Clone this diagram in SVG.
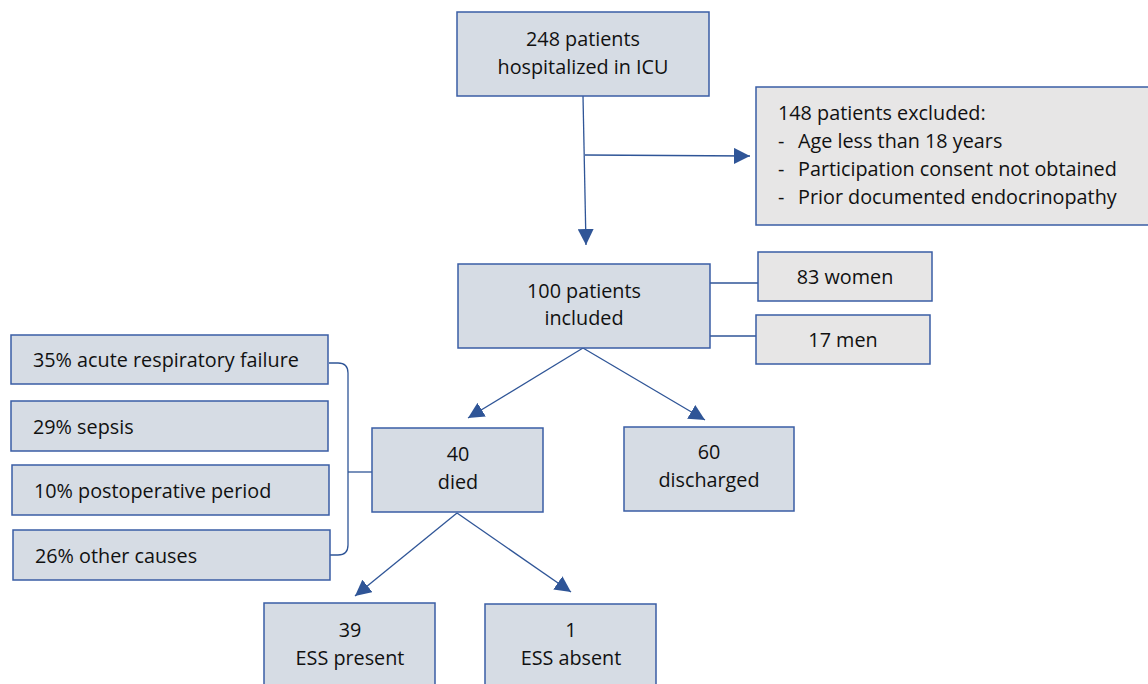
<svg xmlns="http://www.w3.org/2000/svg" width="1148" height="684" viewBox="0 0 1148 684">
<defs>
<marker id="ah" viewBox="0 0 10 10" refX="10" refY="5" markerWidth="16" markerHeight="16" markerUnits="userSpaceOnUse" orient="auto">
<path d="M0,0 L10,5 L0,10 z" fill="#2f5597"/>
</marker>
<style>
.b{fill:#d6dce4;stroke:#3a5da5;stroke-width:1.5}
.g{fill:#e7e6e6;stroke:#3a5da5;stroke-width:1.5}
.c{fill:none;stroke:#2f5597;stroke-width:1.3}
text{font-family:"Open Sans","Noto Sans","Liberation Sans",sans-serif;font-size:19.8px;fill:#111}
.m{text-anchor:middle}
</style>
</defs>
<rect width="1148" height="684" fill="#fff"/>
<g id="connectors">
<path class="c" d="M583,96 L586,245" marker-end="url(#ah)"/>
<path class="c" d="M585,155 L750,156" marker-end="url(#ah)"/>
<path class="c" d="M710,283 L758,283"/>
<path class="c" d="M710,336 L756,336"/>
<path class="c" d="M583,348 L468,418" marker-end="url(#ah)"/>
<path class="c" d="M583,348 L705,420" marker-end="url(#ah)"/>
<path class="c" d="M329,363 L338,363 Q348,363 348,373 L348,545 Q348,555 338,555 L330,555"/>
<path class="c" d="M348,472 L372,472"/>
<path class="c" d="M457,513 L355,596" marker-end="url(#ah)"/>
<path class="c" d="M457,513 L571,592" marker-end="url(#ah)"/>
</g>
<g id="n-248"><rect class="b" x="457" y="12" width="252" height="84"/><text class="m" x="583" y="46">248 patients</text><text class="m" x="583" y="74">hospitalized in ICU</text></g>
<g id="n-excluded"><rect class="g" x="756" y="87" width="400" height="138"/>
<text x="778" y="120">148 patients excluded:</text>
<text x="778" y="148">-</text><text x="798" y="148">Age less than 18 years</text>
<text x="778" y="176">-</text><text x="798" y="176">Participation consent not obtained</text>
<text x="778" y="204">-</text><text x="798" y="204">Prior documented endocrinopathy</text></g>
<g id="n-100"><rect class="b" x="458" y="264" width="252" height="84"/><text class="m" x="584" y="298">100 patients</text><text class="m" x="584" y="325">included</text></g>
<g id="n-women"><rect class="g" x="758" y="252" width="174" height="49"/><text class="m" x="845" y="284">83 women</text></g>
<g id="n-men"><rect class="g" x="756" y="315" width="174" height="49"/><text class="m" x="843" y="347">17 men</text></g>
<g id="n-resp"><rect class="b" x="11" y="335" width="317" height="49"/><text x="33" y="367">35% acute respiratory failure</text></g>
<g id="n-sepsis"><rect class="b" x="11" y="401" width="317" height="50"/><text x="33" y="434">29% sepsis</text></g>
<g id="n-postop"><rect class="b" x="12" y="465" width="317" height="50"/><text x="34" y="498">10% postoperative period</text></g>
<g id="n-other"><rect class="b" x="13" y="530" width="317" height="50"/><text x="35" y="563">26% other causes</text></g>
<g id="n-died"><rect class="b" x="372" y="428" width="171" height="84"/><text class="m" x="458" y="461">40</text><text class="m" x="458" y="489">died</text></g>
<g id="n-discharged"><rect class="b" x="624" y="427" width="170" height="84"/><text class="m" x="709" y="459">60</text><text class="m" x="709" y="487">discharged</text></g>
<g id="n-present"><rect class="b" x="264" y="603" width="171" height="90"/><text class="m" x="350" y="637">39</text><text class="m" x="350" y="665">ESS present</text></g>
<g id="n-absent"><rect class="b" x="485" y="604" width="171" height="90"/><text class="m" x="571" y="637">1</text><text class="m" x="571" y="665">ESS absent</text></g>
</svg>
